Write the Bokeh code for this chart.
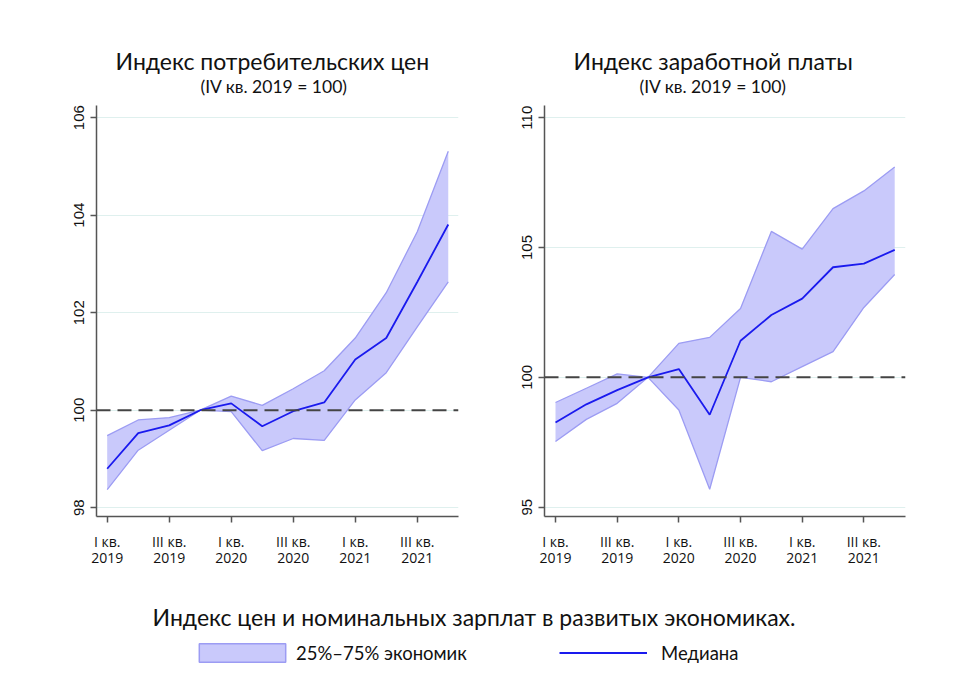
from bokeh.plotting import figure
from bokeh.layouts import column, row
from bokeh.models import (ColumnDataSource, FixedTicker, Span, Title, Legend,
                          LegendItem, Range1d)
from bokeh.embed import file_html
from bokeh.resources import INLINE

# ---------------- data ----------------
quarters = ["I кв.\n2019", "II кв.\n2019", "III кв.\n2019", "IV кв.\n2019",
            "I кв.\n2020", "II кв.\n2020", "III кв.\n2020", "IV кв.\n2020",
            "I кв.\n2021", "II кв.\n2021", "III кв.\n2021", "IV кв.\n2021"]

cpi_median = [98.80, 99.53, 99.69, 100.0, 100.14, 99.67, 99.98, 100.16, 101.04, 101.48, 102.63, 103.81]
cpi_p75 = [99.48, 99.80, 99.85, 100.0, 100.29, 100.10, 100.44, 100.81, 101.48, 102.41, 103.66, 105.31]
cpi_p25 = [98.37, 99.18, 99.59, 100.0, 99.97, 99.17, 99.42, 99.38, 100.21, 100.77, 101.71, 102.63]

wage_median = [98.26, 98.96, 99.51, 100.0, 100.32, 98.56, 101.41, 102.40, 103.03, 104.24, 104.38, 104.91]
wage_p75 = [99.03, 99.58, 100.13, 100.0, 101.31, 101.54, 102.65, 105.62, 104.94, 106.50, 107.18, 108.10]
wage_p25 = [97.53, 98.38, 99.00, 100.0, 98.74, 95.69, 100.0, 99.83, 100.41, 100.99, 102.69, 103.96]

cpi_ticks = [98, 100, 102, 104, 106]
wage_ticks = [95, 100, 105, 110]
base_value = 100

title_cpi = "Индекс потребительских цен"
title_wage = "Индекс заработной платы"
subtitle = "(IV кв. 2019 = 100)"
caption = "Индекс цен и номинальных зарплат в развитых экономиках."
band_label = "25%–75% экономик"
median_label = "Медиана"

# ---------------- styles ----------------
BAND_FILL = "#c9c9fb"
BAND_EDGE = "#9c9cf3"
MEDIAN = "#1a1aee"
AXIS = "#555555"
GRID = "#dff0ee"
TITLE_FONT = "Lato"


def make_panel(main_title, med, lo, hi, yticks, yr, xr, width, bl, br, t_off, s_off):
    x = list(range(len(quarters)))
    src = ColumnDataSource(dict(x=x, med=med, lo=lo, hi=hi))
    p = figure(width=width, height=578, output_backend="svg", toolbar_location=None,
               title=None, x_range=Range1d(*xr), y_range=Range1d(*yr),
               min_border_left=bl, min_border_right=br, min_border_top=105,
               min_border_bottom=62)
    p.add_layout(Title(text=subtitle, align="left", text_font=TITLE_FONT,
                       text_font_size="17.5px", text_font_style="normal",
                       text_color="#111111", offset=s_off, standoff=17), "above")
    p.add_layout(Title(text=main_title, align="left", text_font=TITLE_FONT,
                       text_font_size="23px", text_font_style="normal",
                       text_color="#111111", offset=t_off, standoff=-18), "above")

    p.varea(x="x", y1="lo", y2="hi", source=src, fill_color=BAND_FILL, fill_alpha=1.0)
    p.line(x="x", y="hi", source=src, line_color=BAND_EDGE, line_width=1.3)
    p.line(x="x", y="lo", source=src, line_color=BAND_EDGE, line_width=1.3)
    p.line(x="x", y="med", source=src, line_color=MEDIAN, line_width=1.8)
    p.add_layout(Span(location=base_value, dimension="width", line_color="#444444",
                      line_width=2, line_dash="14 7"))

    p.outline_line_color = None
    p.xgrid.visible = False
    p.ygrid.ticker = FixedTicker(ticks=yticks)
    p.ygrid.grid_line_color = GRID
    p.ygrid.grid_line_width = 1.2

    ticks = x[::2]
    p.xaxis.ticker = FixedTicker(ticks=ticks)
    p.xaxis.major_label_overrides = {i: quarters[i] for i in ticks}
    p.yaxis.ticker = FixedTicker(ticks=yticks)
    p.yaxis.major_label_orientation = "vertical"
    for ax in (p.xaxis, p.yaxis):
        ax.axis_line_color = AXIS
        ax.axis_line_width = 1.5
        ax.major_tick_line_color = AXIS
        ax.major_tick_line_width = 1.5
        ax.major_tick_out = 6
        ax.major_tick_in = 0
        ax.minor_tick_out = 0
        ax.minor_tick_in = 0
        ax.major_label_text_color = "#111111"
    p.xaxis.major_label_text_font = "Open Sans"
    p.xaxis.major_label_text_font_size = "14px"
    p.xaxis.major_label_text_line_height = 0.85
    p.xaxis.major_label_standoff = 9
    p.yaxis.major_label_text_font = "Liberation Sans"
    p.yaxis.major_label_text_font_size = "15px"
    p.yaxis.major_label_standoff = 6
    return p


p1 = make_panel(title_cpi, cpi_median, cpi_p25, cpi_p75, cpi_ticks,
                (97.82, 106.25), (-0.345, 11.33), 478, 96, 20, 19, 104)
p2 = make_panel(title_wage, wage_median, wage_p25, wage_p75, wage_ticks,
                (94.64, 110.47), (-0.357, 11.35), 469, 66, 42, 29, 95)

# ---------------- caption + legend ----------------
p3 = figure(width=947, height=100, output_backend="svg", toolbar_location=None,
            x_axis_location=None, y_axis_location=None, min_border=0,
            min_border_top=54,
            x_range=Range1d(0, 1), y_range=Range1d(0, 1), title=caption)
for g in p3.grid:
    g.visible = False
p3.outline_line_color = None
p3.title.align = "center"
p3.title.text_font = TITLE_FONT
p3.title.text_font_size = "23px"
p3.title.text_font_style = "normal"
p3.title.text_color = "#111111"
p3.title.standoff = 4

# legend-only renderers: real data, lying outside this strip's 0..1 ranges
idx = list(range(len(quarters)))
band_r = p3.quad(left=idx, right=idx, top=cpi_p75, bottom=cpi_p25,
                 fill_color=BAND_FILL, line_color=BAND_EDGE, line_width=1.5)
med_r = p3.line(x=idx, y=cpi_median, line_color=MEDIAN, line_width=2)

common = dict(orientation="horizontal", padding=0, margin=0, border_line_color=None,
              background_fill_alpha=0, label_text_font=TITLE_FONT,
              label_text_font_size="18.5px", label_text_color="#111111")
legend_band = Legend(items=[LegendItem(label=band_label, renderers=[band_r])],
                     location=(188, 14), glyph_width=108, glyph_height=23,
                     label_standoff=0, **common)
legend_med = Legend(items=[LegendItem(label=median_label, renderers=[med_r])],
                    location=(559, 14), glyph_width=88, glyph_height=23,
                    label_standoff=14, **common)
p3.add_layout(legend_band, "center")
p3.add_layout(legend_med, "center")

layout = column(row(p1, p2), p3)

open("out.html", "w").write(file_html(layout, INLINE))
